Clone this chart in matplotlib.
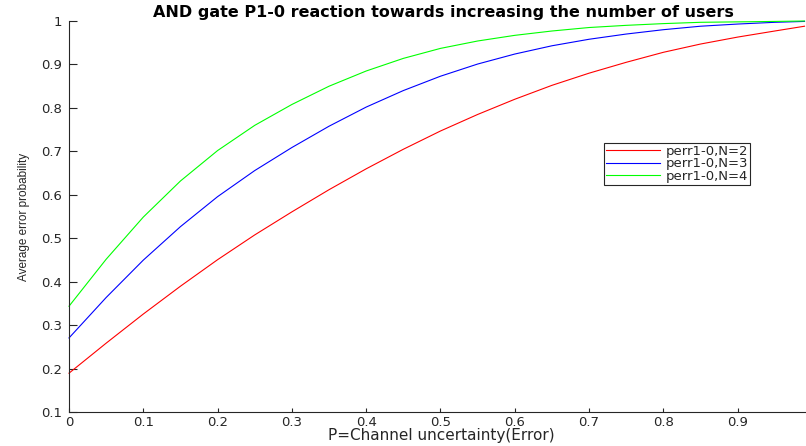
import matplotlib
matplotlib.use("Agg")
import matplotlib.pyplot as plt

# Data
p_values = [0.00, 0.05, 0.10, 0.15, 0.20, 0.25, 0.30, 0.35, 0.40, 0.45, 0.50,
            0.55, 0.60, 0.65, 0.70, 0.75, 0.80, 0.85, 0.90, 0.95, 0.99]
perr_n2 = [0.190, 0.259, 0.326, 0.390, 0.451, 0.508, 0.561, 0.612, 0.660, 0.705, 0.747,
           0.785, 0.820, 0.852, 0.880, 0.905, 0.928, 0.947, 0.963, 0.977, 0.988]
perr_n3 = [0.271, 0.364, 0.450, 0.527, 0.596, 0.656, 0.709, 0.758, 0.802, 0.840, 0.873,
           0.901, 0.924, 0.943, 0.958, 0.970, 0.980, 0.988, 0.993, 0.997, 0.999]
perr_n4 = [0.344, 0.452, 0.549, 0.632, 0.702, 0.760, 0.808, 0.850, 0.885, 0.914, 0.937,
           0.954, 0.967, 0.977, 0.985, 0.990, 0.994, 0.997, 0.998, 0.999, 1.000]
series_labels = ["perr1-0,N=2", "perr1-0,N=3", "perr1-0,N=4"]
x_ticks = [0, 0.1, 0.2, 0.3, 0.4, 0.5, 0.6, 0.7, 0.8, 0.9]
x_tick_labels = ["0", "0.1", "0.2", "0.3", "0.4", "0.5", "0.6", "0.7", "0.8", "0.9"]
y_ticks = [0.1, 0.2, 0.3, 0.4, 0.5, 0.6, 0.7, 0.8, 0.9, 1.0]
y_tick_labels = ["0.1", "0.2", "0.3", "0.4", "0.5", "0.6", "0.7", "0.8", "0.9", "1"]
title_text = "AND gate P1-0 reaction towards increasing the number of users"
x_label = "P=Channel uncertainty(Error)"
y_label = "Average error probability"

W, H = 806, 446
fig = plt.figure(figsize=(W / 100, H / 100), dpi=100)
ax_left, ax_right, ax_top, ax_bottom = 69, 806, 21, 412.3
ax = fig.add_axes([ax_left / W, 1 - ax_bottom / H,
                   (ax_right - ax_left) / W, (ax_bottom - ax_top) / H])

dark = "#262626"
colors = ["#ff0000", "#0000ff", "#00ff00"]
for ys, c, lab in zip([perr_n2, perr_n3, perr_n4], colors, series_labels):
    ax.plot(p_values, ys, color=c, lw=0.8, label=lab, clip_on=False,
            solid_joinstyle="round")

ax.set_xlim(0, 0.992)
ax.set_ylim(0.1, 1.0)
ax.set_xticks(x_ticks)
ax.set_xticklabels(x_tick_labels, family="DejaVu Sans", fontsize=9.5, color=dark)
ax.set_yticks(y_ticks)
ax.set_yticklabels(y_tick_labels, family="DejaVu Sans", fontsize=9.5, color=dark)
ax.tick_params(axis="x", direction="in", length=3, width=0.8, color=dark, pad=3.0)
ax.tick_params(axis="y", direction="in", length=6, width=0.8, color=dark, pad=5)

for s in ["top", "right"]:
    ax.spines[s].set_visible(False)
for s in ["left", "bottom"]:
    ax.spines[s].set_color(dark)
    ax.spines[s].set_linewidth(0.8)

ax.set_title(title_text, family="DejaVu Sans", fontweight="bold", fontsize=11.5,
             color="black", pad=3, x=(443.5 - ax_left) / (ax_right - ax_left))

ax.set_xlabel(x_label, family="DejaVu Sans", fontsize=11, color=dark)
ax.xaxis.set_label_coords((441 - ax_left) / (ax_right - ax_left),
                          (ax_bottom - 428) / (ax_bottom - ax_top))
ax.set_ylabel(y_label, family="Liberation Sans", fontsize=8.5, color=dark)
ax.yaxis.set_label_coords((30.5 - ax_left) / (ax_right - ax_left), 0.5)

leg = ax.legend(loc="center left", bbox_to_anchor=(604 / W, 1 - 163.9 / H),
                bbox_transform=fig.transFigure, borderaxespad=0,
                prop={"family": "DejaVu Sans", "size": 9.5},
                handlelength=4.1, handletextpad=0.4, labelspacing=-0.05,
                borderpad=0.15, fancybox=False, framealpha=1)
leg.get_frame().set_edgecolor(dark)
leg.get_frame().set_linewidth(0.8)
for t in leg.get_texts():
    t.set_color(dark)

fig.savefig("out.png", dpi=100)
